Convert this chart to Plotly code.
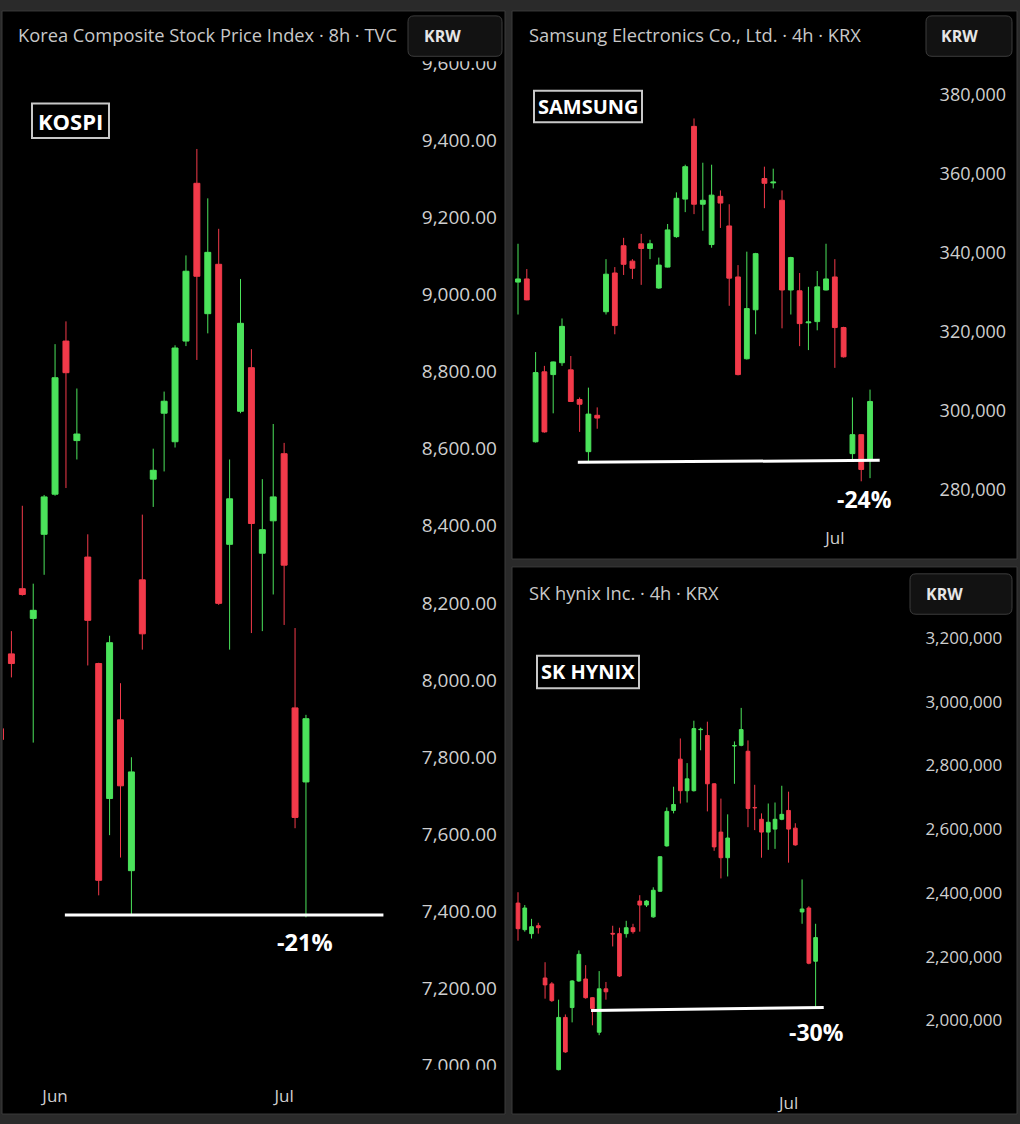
import plotly.graph_objects as go

W, H = 1020, 1124

# ---------------- DATA ----------------
kospi_open = [7874, 8068, 8237, 8160, 8378, 8482, 8879, 8621, 8319, 8043, 7693, 7897, 7506, 8260, 8521,
              8692, 8618, 8879, 9288, 8950, 9078, 8352, 8697, 8810, 8329, 8413, 8587, 7928, 7736]
kospi_high = [7880, 8127, 8452, 8250, 8480, 8871, 8930, 8756, 8378, 8045, 8115, 7992, 7800, 8429, 8600,
              8748, 8868, 9101, 9377, 9249, 9170, 8572, 9040, 8858, 8521, 8664, 8615, 8135, 7910]
kospi_low = [7840, 8007, 8219, 7838, 8273, 8478, 8498, 8572, 8038, 7442, 7598, 7540, 7391, 8079, 8449,
             8541, 8603, 8866, 8830, 8899, 8195, 8079, 8692, 8122, 8127, 8222, 8143, 7616, 7385]
kospi_close = [7846, 8043, 8222, 8181, 8475, 8784, 8797, 8638, 8155, 7481, 8097, 7726, 7762, 8120, 8544,
               8723, 8861, 9060, 9047, 9109, 8199, 8470, 8925, 8406, 8390, 8475, 8298, 7644, 7900]
kospi_ticks = [7000, 7200, 7400, 7600, 7800, 8000, 8200, 8400, 8600, 8800, 9000, 9200, 9400, 9600]
kospi_month_pos = [5, 26]
kospi_month_txt = ["Jun", "Jul"]
kospi_support_x = [5.9, 35.1]
kospi_support_y = [7391, 7391]
kospi_pct = ("-21%", 27.9, 7322)

sam_open = [332600, 333400, 292200, 309900, 309200, 312200, 310400, 302900, 289700, 298900, 325100, 334900,
            341800, 337900, 342300, 341100, 331100, 336400, 344100, 353600, 372000, 352300, 342100, 354300,
            346800, 333900, 313200, 325600, 358800, 357700, 353300, 330600, 330400, 322300, 322600, 330600,
            333900, 321100, 289200, 294000, 287700]
sam_high = [342300, 335900, 314900, 311400, 312500, 323400, 313900, 303400, 305900, 300900, 338400, 336400,
            343800, 338400, 344800, 343300, 338800, 347300, 355300, 362300, 374000, 362800, 362300, 355800,
            352300, 336900, 340300, 340000, 361800, 361300, 355800, 339000, 334900, 331400, 335400, 342300,
            338400, 321300, 303400, 294100, 305400]
sam_low = [324400, 328000, 292000, 294500, 299400, 311400, 302300, 294700, 287200, 295500, 324400, 319400,
           334400, 333400, 331900, 338400, 330900, 336300, 343800, 350300, 349800, 345600, 341300, 346300,
           326600, 309000, 313000, 319400, 351300, 356300, 320900, 324400, 316400, 315400, 320400, 330500,
           310900, 313500, 287500, 282200, 283000]
sam_close = [333400, 328100, 309700, 294700, 312400, 321400, 302400, 301700, 299200, 298200, 334600, 321600,
             337100, 336100, 341100, 342300, 336900, 345800, 353800, 361800, 352300, 353300, 354600, 352600,
             333600, 309200, 325900, 339800, 357600, 357900, 330600, 338800, 322100, 322500, 331400, 333400,
             321100, 313700, 294000, 285200, 302400]
sam_ticks = [280000, 300000, 320000, 340000, 360000, 380000]
sam_month_pos = [36]
sam_month_txt = ["Jul"]
sam_support_x = [6.8, 41.1]
sam_support_y = [287000, 287500]
sam_pct = ("-24%", 39.4, 277700)

sk_open = [2368000, 2284500, 2272100, 2296800, 2132900, 2114400, 1845300, 2009200, 2040100, 2123600, 2129800,
           2071100, 1962800, 2098900, 2273000, 2272100, 2272100, 2290700, 2374200, 2361800, 2324700, 2405100,
           2547400, 2658700, 2819600, 2720600, 2720600, 2912000, 2893800, 2742200, 2590700, 2510300, 2861000,
           2862900, 2844300, 2668000, 2630900, 2590700, 2600000, 2630900, 2658700, 2603100, 2340100, 2352500,
           2185500]
sk_high = [2402000, 2361800, 2318500, 2306100, 2182400, 2120000, 2064900, 2018500, 2126000, 2219500, 2173100,
           2073000, 2154600, 2120500, 2296800, 2290700, 2312300, 2303000, 2392700, 2377300, 2417500, 2515000,
           2668000, 2733000, 2884500, 2807200, 2940200, 2918500, 2937100, 2744000, 2695800, 2646400, 2875200,
           2980400, 2878300, 2739100, 2649400, 2680400, 2683500, 2736100, 2717500, 2618500, 2442200, 2358000,
           2303000]
sk_low = [2250000, 2278300, 2256600, 2272100, 2068000, 2058000, 1843000, 1898000, 1993700, 2121000, 2068000,
          1984500, 1953500, 2064900, 2231900, 2136000, 2259700, 2272100, 2278300, 2355600, 2322000, 2403000,
          2545000, 2649400, 2680400, 2683500, 2718000, 2847400, 2655600, 2531900, 2445300, 2451500, 2742200,
          2860000, 2606100, 2596900, 2510300, 2535000, 2538100, 2628000, 2494800, 2548000, 2303000, 2176000,
          2037000]
sk_close = [2287600, 2352500, 2293800, 2290700, 2111300, 2061800, 2009200, 1900900, 2123600, 2207100, 2071100,
            2037000, 2098900, 2089600, 2271000, 2139100, 2290700, 2278300, 2361800, 2374200, 2408200, 2513400,
            2655600, 2677300, 2720600, 2757700, 2915400, 2913000, 2742200, 2544300, 2510300, 2572100, 2862000,
            2912400, 2664900, 2667000, 2590700, 2621600, 2630900, 2646400, 2600000, 2550500, 2349400, 2179300,
            2259700]
sk_ticks = [2000000, 2200000, 2400000, 2600000, 2800000, 3000000, 3200000]
sk_month_pos = [40]
sk_month_txt = ["Jul"]
sk_support_x = [10.8, 45.2]
sk_support_y = [2031000, 2040000]
sk_pct = ("-30%", 44.1, 1962800)

# ---------------- STYLE ----------------
GREEN = "#4be35b"
RED = "#f23a4a"
TXT = "#cfcfcf"
FONT = "Open Sans"


def PX(x):
    return x / W


def PY(y):
    return 1 - y / H


fig = go.Figure()


def add_panel(n, o, h, l, c, sx, sy, xdom, ydom, xr, yr, ticks, tickfmt, mpos, mtxt, pct,
              standoff_x, standoff_y, yfont, pfont):
    xs = list(range(len(o)))
    xa = "x" if n == 1 else f"x{n}"
    ya = "y" if n == 1 else f"y{n}"
    fig.add_trace(go.Candlestick(
        x=xs, open=o, high=h, low=l, close=c, xaxis=xa, yaxis=ya,
        increasing=dict(line=dict(color=GREEN, width=1), fillcolor=GREEN),
        decreasing=dict(line=dict(color=RED, width=1), fillcolor=RED),
        whiskerwidth=0, hoverinfo="skip", showlegend=False))
    fig.add_trace(go.Scatter(x=sx, y=sy, mode="lines", xaxis=xa, yaxis=ya,
                             line=dict(color="white", width=3), hoverinfo="skip", showlegend=False))
    key = "" if n == 1 else str(n)
    fig.layout["xaxis" + key] = dict(
        domain=[PX(xdom[0]), PX(xdom[1])], range=xr, anchor=ya, showgrid=False, zeroline=False,
        showline=False, tickmode="array", tickvals=mpos, ticktext=mtxt, ticks="outside", ticklen=0,
        ticklabelstandoff=standoff_x, tickfont=dict(family=FONT, size=17, color=TXT),
        rangeslider=dict(visible=False), fixedrange=True)
    fig.layout["yaxis" + key] = dict(
        domain=[PY(ydom[1]), PY(ydom[0])], range=yr, anchor=xa, side="right", showgrid=False,
        zeroline=False, showline=False, tickmode="array", tickvals=ticks, tickformat=tickfmt,
        ticks="outside", ticklen=0, ticklabelstandoff=standoff_y,
        tickfont=dict(family=FONT, size=yfont, color=TXT), fixedrange=True)
    fig.add_annotation(x=pct[1], y=pct[2], xref=xa, yref=ya, text=pct[0], showarrow=False,
                       font=dict(family=FONT, size=pfont, color="white", weight="bold"))


# KOSPI
add_panel(1, kospi_open, kospi_high, kospi_low, kospi_close, kospi_support_x, kospi_support_y,
          (3, 412), (50, 1078), [0.229, 37.72], [6987.5, 9614.7], kospi_ticks, ",.2f",
          kospi_month_pos, kospi_month_txt, kospi_pct, 10, 5, 19, 23.5)
# Samsung
add_panel(2, sam_open, sam_high, sam_low, sam_close, sam_support_x, sam_support_y,
          (513, 929), (50, 520), [-0.568, 46.7], [272259, 389477], sam_ticks, ",",
          sam_month_pos, sam_month_txt, sam_pct, 2, 6, 18, 23)
# SK hynix
add_panel(3, sk_open, sk_high, sk_low, sk_close, sk_support_x, sk_support_y,
          (513, 913), (620, 1085), [-0.741, 58.4], [1820522, 3258767], sk_ticks, ",",
          sk_month_pos, sk_month_txt, sk_pct, 10, 8, 17, 23)

shapes = []
# panels (below)
for (x0, y0, x1, y1) in [(2, 3, 505, 1122), (512, 3, 1017, 559), (512, 567, 1017, 1122)]:
    shapes.append(dict(type="rect", xref="paper", yref="paper", x0=PX(x0), x1=PX(x1), y0=PY(y1), y1=PY(y0),
                       fillcolor="#000000", line=dict(color="#3a3a3a", width=1), layer="below"))
# masks (above) hiding clipped axis labels
shapes.append(dict(type="rect", xref="paper", yref="paper", x0=PX(3), x1=PX(504), y0=PY(54), y1=PY(4),
                   fillcolor="#000000", line=dict(width=0), layer="above"))
shapes.append(dict(type="rect", xref="paper", yref="paper", x0=PX(413), x1=PX(504), y0=PY(1090), y1=PY(1077),
                   fillcolor="#000000", line=dict(width=0), layer="above"))


def rrect(x0, y0, x1, y1, r):
    rx, ry = r / W, r / H
    X0, X1, Y0, Y1 = PX(x0), PX(x1), PY(y0), PY(y1)
    return (f"M {X0+rx},{Y0} L {X1-rx},{Y0} Q {X1},{Y0} {X1},{Y0-ry} L {X1},{Y1+ry} Q {X1},{Y1} {X1-rx},{Y1} "
            f"L {X0+rx},{Y1} Q {X0},{Y1} {X0},{Y1+ry} L {X0},{Y0-ry} Q {X0},{Y0} {X0+rx},{Y0} Z")


# KRW buttons
for (x0, y0, x1, y1) in [(408, 8, 502, 49), (926, 8, 1012, 49), (910, 574, 1012, 615)]:
    shapes.append(dict(type="path", xref="paper", yref="paper", path=rrect(x0, y0, x1, y1, 6),
                       fillcolor="#121212", line=dict(color="#3c3c3c", width=1), layer="above"))
# label boxes
for (x0, y0, x1, y1) in [(32, 97, 109, 132), (534, 84, 642, 116), (537, 657, 639, 690)]:
    shapes.append(dict(type="rect", xref="paper", yref="paper", x0=PX(x0), x1=PX(x1), y0=PY(y1), y1=PY(y0),
                       fillcolor="#000000", line=dict(color="#c8c8c8", width=2), layer="above"))
fig.update_layout(shapes=shapes)

# header titles
for (x, y, t) in [(16, 27, "Korea Composite Stock Price Index · 8h · TVC"),
                  (527, 27, "Samsung Electronics Co., Ltd. · 4h · KRX"),
                  (527, 593, "SK hynix Inc. · 4h · KRX")]:
    fig.add_annotation(x=PX(x), y=PY(y), xref="paper", yref="paper", text=t, showarrow=False,
                       xanchor="left", yanchor="middle", font=dict(family=FONT, size=18.3, color="#c8c8c8"))
for (x, y) in [(422, 28), (939, 28), (924, 594)]:
    fig.add_annotation(x=PX(x), y=PY(y), xref="paper", yref="paper", text="KRW", showarrow=False,
                       xanchor="left", yanchor="middle",
                       font=dict(family=FONT, size=16, color="#e6e6e6", weight="bold"))
for (x0, y0, x1, y1, t, s) in [(32, 97, 109, 132, "KOSPI", 22), (534, 84, 642, 116, "SAMSUNG", 20),
                               (537, 657, 639, 690, "SK HYNIX", 20)]:
    fig.add_annotation(x=PX((x0 + x1) / 2), y=PY((y0 + y1) / 2), xref="paper", yref="paper", text=t,
                       showarrow=False, xanchor="center", yanchor="middle",
                       font=dict(family=FONT, size=s, color="white", weight="bold"))

fig.update_layout(
    width=W, height=H, margin=dict(l=0, r=0, t=0, b=0),
    paper_bgcolor="#2a2a2a", plot_bgcolor="rgba(0,0,0,0)",
    boxgap=0.22, showlegend=False, dragmode=False,
)

fig.write_html(
    "out.html",
    config={"displayModeBar": False},
    post_script=("document.documentElement.style.margin='0';document.body.style.margin='0';"
                 "document.documentElement.style.overflow='hidden';document.body.style.overflow='hidden';"),
)
